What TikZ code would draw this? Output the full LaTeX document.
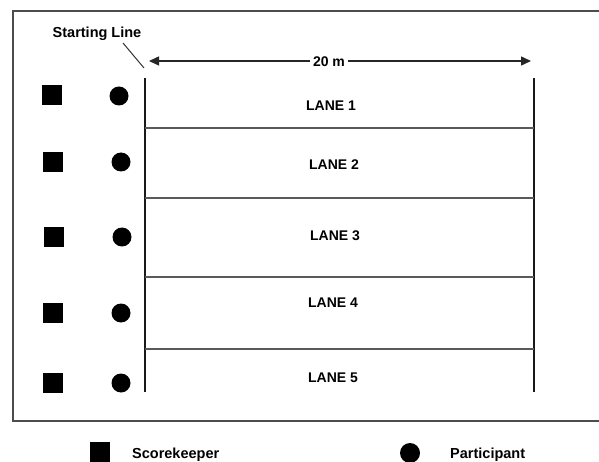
\documentclass[tikz,border=0pt]{standalone}
\usepackage{fontspec}
\setmainfont{Liberation Sans}
\usetikzlibrary{arrows.meta}
\begin{document}
\begin{tikzpicture}[x=1pt,y=-1pt,
  lbl/.style={font=\bfseries\fontsize{14}{16}\selectfont, inner sep=1pt},
  lgd/.style={font=\bfseries\fontsize{14.5}{17}\selectfont, anchor=west, inner sep=0pt},
  keeper/.style={rectangle, fill=black, minimum size=20pt, inner sep=0pt},
  player/.style={circle, fill=black, minimum size=19pt, inner sep=0pt},
  frame/.style={draw=black!70, line width=1.4pt},
  endline/.style={draw=black!90, line width=2.4pt},
  divider/.style={draw=black!65, line width=1.6pt},
  dim/.style={draw=black!85, line width=1.4pt, -{Triangle[length=10pt,width=9pt]}}
]
\useasboundingbox (0,0) rectangle (599,462);
% frame (right side lies beyond the picture)
\draw[frame] (599,11) -- (13,11) -- (13,421) -- (599,421);
% starting and finish lines
\coordinate (s1) at (145,78); \coordinate (s2) at (145,392);
\coordinate (f1) at (534,78); \coordinate (f2) at (534,392);
\draw[endline] (s1) -- (s2);
\draw[endline] (f1) -- (f2);
% lane dividers
\foreach \y [count=\i] in {128,198,277,349}{
  \coordinate (dl\i) at (145,\y); \coordinate (dr\i) at (534,\y);
  \draw[divider] (dl\i) -- (dr\i);
}
% lane labels
\node[lbl] (lane1) at (331,106) {LANE 1};
\node[lbl] (lane2) at (334,165) {LANE 2};
\node[lbl] (lane3) at (335,236) {LANE 3};
\node[lbl] (lane4) at (333,303) {LANE 4};
\node[lbl] (lane5) at (333,378) {LANE 5};
% distance arrow
\node[lbl, inner sep=2.5pt] (dist) at (329,62) {20 m};
\coordinate (aL) at (149,61); \coordinate (aR) at (531,61);
\draw[dim] (dist.west |- aL) -- (aL);
\draw[dim] (dist.east |- aR) -- (aR);
% starting line label
\node[lbl, font=\bfseries\fontsize{14.5}{17}\selectfont] (start) at (97,34) {Starting Line};
\coordinate (lead1) at (123,43); \coordinate (lead2) at (144,68);
\draw[black!80, line width=1pt] (lead1) -- (lead2);
% scorekeepers and participants
\node[keeper] (k1) at (52,95) {};
\node[keeper] (k2) at (53,162) {};
\node[keeper] (k3) at (54,237) {};
\node[keeper] (k4) at (53,313) {};
\node[keeper] (k5) at (53,383) {};
\node[player] (p1) at (119,96) {};
\node[player] (p2) at (121,162) {};
\node[player] (p3) at (122,237) {};
\node[player] (p4) at (121,313) {};
\node[player] (p5) at (121,383) {};
% legend
\node[keeper] (lk) at (100,452) {};
\node[lgd] (lkt) at (132,455) {Scorekeeper};
\node[player, minimum size=20pt] (lp) at (410,453) {};
\node[lgd] (lpt) at (450,455) {Participant};
\end{tikzpicture}
\end{document}
